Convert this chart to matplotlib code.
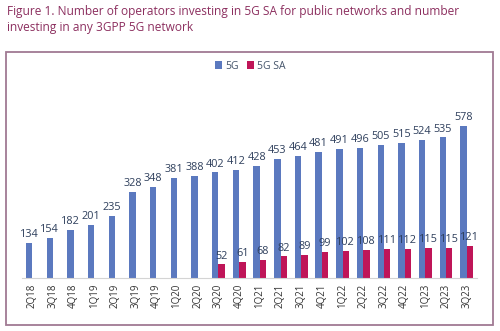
import numpy as np
import matplotlib
matplotlib.use("Agg")
import matplotlib.pyplot as plt
from matplotlib.patches import Rectangle

quarters = ["2Q18", "3Q18", "4Q18", "1Q19", "2Q19", "3Q19", "4Q19", "1Q20", "2Q20",
            "3Q20", "4Q20", "1Q21", "2Q21", "3Q21", "4Q21", "1Q22", "2Q22", "3Q22",
            "4Q22", "1Q23", "2Q23", "3Q23"]
fiveg = [134, 154, 182, 201, 235, 328, 348, 381, 388, 402, 412, 428, 453, 464, 481,
         491, 496, 505, 515, 524, 535, 578]
fiveg_sa = [None, None, None, None, None, None, None, None, None,
            52, 61, 68, 82, 89, 99, 102, 108, 111, 112, 115, 115, 121]

plt.rcParams["font.family"] = ["Open Sans", "DejaVu Sans"]

blue = "#5b79bf"
red = "#bf1558"
label_col = "#2e3f5c"

fig = plt.figure(figsize=(5, 3.31), dpi=100)
ax = fig.add_axes([0.044, 0.160, 0.910, 0.556])

x = np.arange(len(quarters))
w = 0.31
sa = np.array([np.nan if v is None else v for v in fiveg_sa], dtype=float)

b1 = ax.bar(x - w / 2, fiveg, width=w, color=blue, label="5G")
b2 = ax.bar(x + w / 2, np.nan_to_num(sa), width=w, color=red, label="5G SA")

# value labels above bars
for xi, v in zip(x, fiveg):
    ax.annotate(str(v), (xi - w / 2, v), xytext=(0, 2), textcoords="offset points",
                ha="center", va="bottom", fontsize=7.8, color=label_col)
for xi, v in zip(x, sa):
    if not np.isnan(v):
        ax.annotate(str(int(v)), (xi + w / 2, v), xytext=(0, 2), textcoords="offset points",
                    ha="center", va="bottom", fontsize=7.8, color=label_col)

ax.set_xlim(-0.5, len(quarters) - 0.5)
ax.set_ylim(0, 700)
ax.set_xticks(x)
ax.set_xticklabels(quarters, rotation=90, fontsize=7, color="#333333")
ax.tick_params(axis="x", length=0, pad=4)
ax.set_yticks([])
for s in ["top", "right", "left"]:
    ax.spines[s].set_visible(False)
ax.spines["bottom"].set_color("#d4d4d4")

fig.legend(handles=[b1, b2], loc="center", bbox_to_anchor=(0.5, 0.80), ncol=2,
           frameon=False, fontsize=7.5, handlelength=0.7, handleheight=0.7,
           handletextpad=0.25, columnspacing=0.8, labelcolor="#44546a")

fig.text(0.014, 1 - 12 / 331,
         "Figure 1. Number of operators investing in 5G SA for public networks and number",
         fontsize=8.6, color="#8c2f5f", va="center", ha="left")
fig.text(0.014, 1 - 27 / 331, "investing in any 3GPP 5G network",
         fontsize=8.6, color="#8c2f5f", va="center", ha="left")

fig.add_artist(Rectangle((6 / 500, 1 - 325 / 331), 487 / 500, 273 / 331,
                         transform=fig.transFigure, fill=False,
                         edgecolor="#a07a93", lw=1.3))

fig.savefig("out.png", dpi=100)
